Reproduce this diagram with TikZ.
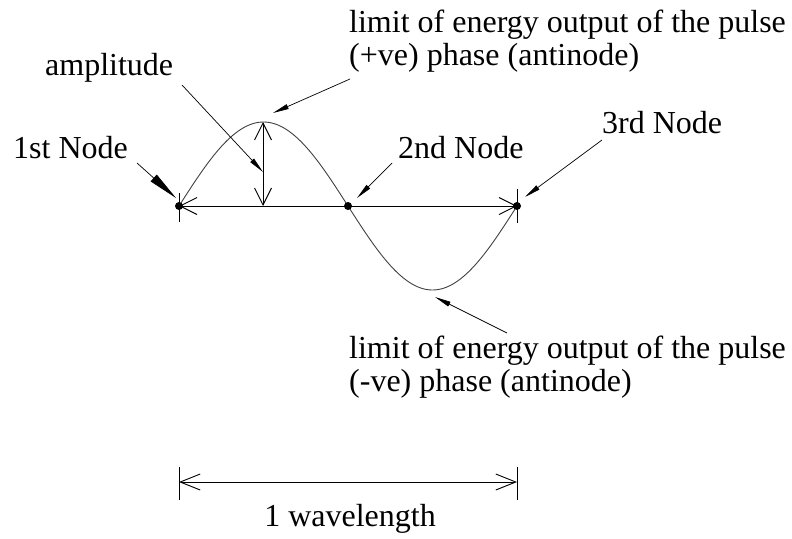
\documentclass[tikz,border=0pt]{standalone}
\usepackage{fontspec}
\setmainfont{Liberation Serif}
\usetikzlibrary{arrows.meta,positioning,calc}
\tikzset{
  lbl/.style={inner sep=0pt, anchor=base west, align=left,
              font=\fontsize{32}{33}\selectfont},
  wave/.style={draw=black!75, line width=0.9pt},
  dimline/.style={line width=0.9pt, {Straight Barb[length=17pt,width=17pt]}-{Straight Barb[length=17pt,width=17pt]}},
  pointer/.style={line width=0.7pt, -{Triangle[length=16pt,width=5pt]}},
  bigpointer/.style={line width=0.7pt, -{Triangle[length=30pt,width=9pt]}},
  knot/.style={circle, fill=black, inner sep=0pt, minimum size=8pt}
}

\begin{document}
\begin{tikzpicture}[x=1pt,y=-1pt]
\useasboundingbox (0,0) rectangle (792,538);

% axis points
\coordinate (n1) at (179,206);
\coordinate (n2) at (348,206);
\coordinate (n3) at (517,206);
\coordinate (crest) at (263,122);
\coordinate (foot) at (263,206);
\coordinate (trough) at (432,290);

% wave
\draw[wave, domain=179:517, samples=120, smooth]
  plot (\x, {206 - 84*sin((\x-179)/338*360)});

% axis with ticks
\draw[dimline] (n1) -- (n3);
\draw[line width=0.9pt] ($(n1)+(0,-13)$) -- ($(n1)+(0,16)$);
\draw[line width=0.9pt] ($(n3)+(0,-17)$) -- ($(n3)+(0,17)$);
\draw[dimline] (crest) -- (foot);

\node[knot] (k1) at (n1) {};
\node[knot] (k2) at (n2) {};
\node[knot] (k3) at (n3) {};

% labels
\node[lbl] (first) at (13,158) {1st Node};
\node[lbl] (amp) at (45,75) {amplitude};
\node[lbl] (second) at (398,158) {2nd Node};
\node[lbl] (third) at (602,133) {3rd Node};
\node[lbl] (pos) at (349,65) {limit of energy output of the pulse\\(+ve) phase (antinode)};
\node[lbl] (neg) at (349,391) {limit of energy output of the pulse\\(-ve) phase (antinode)};

% pointers
\coordinate (p1) at (137,163);
\coordinate (p2) at (182,85);
\coordinate (p3) at (350,79);
\coordinate (p4) at (392,163);
\coordinate (p5) at (602,140);
\coordinate (p6) at (507,333);
\coordinate (t1) at (176,198);
\coordinate (t2) at (263,172);
\coordinate (t3) at (273,113);
\coordinate (t4) at (357,198);
\coordinate (t5) at (525,197);
\coordinate (t6) at (435,297);
\draw[bigpointer] (p1) -- (t1);
\draw[pointer] (p2) -- (t2);
\draw[pointer] (p3) -- (t3);
\draw[pointer] (p4) -- (t4);
\draw[pointer] (p5) -- (t5);
\draw[pointer] (p6) -- (t6);

% wavelength dimension
\coordinate (w1) at (179,482);
\coordinate (w2) at (517,482);
\draw[line width=0.9pt, {Straight Barb[length=20pt,width=16pt]}-{Straight Barb[length=20pt,width=16pt]}] (w1) -- (w2);
\draw[line width=0.9pt] ($(w1)+(0,-15)$) -- ($(w1)+(0,18)$);
\draw[line width=0.9pt] ($(w2)+(0,-15)$) -- ($(w2)+(0,18)$);
\node[lbl, anchor=base] (wl) at (350,526) {1 wavelength};
\end{tikzpicture}
\end{document}
